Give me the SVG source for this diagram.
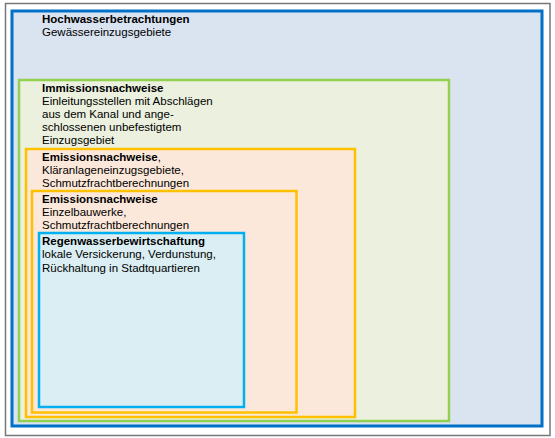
<svg xmlns="http://www.w3.org/2000/svg" width="555" height="438" viewBox="0 0 555 438">
<style>
text{font-family:"Liberation Sans",Arial,sans-serif;font-size:11.5px;fill:#000}
.b{font-weight:bold}
</style>
<rect width="555" height="438" fill="#fff"/>
<rect x="5.5" y="3.5" width="544.5" height="432" fill="#fff" stroke="#777" stroke-width="1.5"/>
<g id="hochwasser">
<rect x="12" y="11" width="530" height="415" fill="#DAE3F0" stroke="#0070C8" stroke-width="3"/>
<text x="42" y="23" class="b">Hochwasserbetrachtungen</text>
<text x="42" y="36">Gewässereinzugsgebiete</text>
</g>
<g id="immission">
<rect x="19" y="80" width="430" height="341" fill="#EBF1DE" stroke="#92D050" stroke-width="2.5"/>
<text x="42" y="91.5" class="b">Immissionsnachweise</text>
<text x="42" y="104.5">Einleitungsstellen mit Abschlägen</text>
<text x="42" y="117.5">aus dem Kanal und ange-</text>
<text x="42" y="130.5">schlossenen unbefestigtem</text>
<text x="42" y="143.5">Einzugsgebiet</text>
</g>
<g id="emission1">
<rect x="26" y="149" width="329" height="268" fill="#FCE8DA" stroke="#FFC000" stroke-width="2.5"/>
<text x="42" y="160.5"><tspan class="b">Emissionsnachweise</tspan>,</text>
<text x="42" y="173.5">Kläranlageneinzugsgebiete,</text>
<text x="42" y="186.5">Schmutzfrachtberechnungen</text>
</g>
<g id="emission2">
<rect x="32" y="191" width="264.5" height="221.5" fill="#FCE8DA" stroke="#FFC000" stroke-width="2.5"/>
<text x="42" y="202.5" class="b">Emissionsnachweise</text>
<text x="42" y="215.5">Einzelbauwerke,</text>
<text x="42" y="228.5">Schmutzfrachtberechnungen</text>
</g>
<g id="regenwasser">
<rect x="39" y="233" width="205" height="174" fill="#DAEEF3" stroke="#00B0F0" stroke-width="2.5"/>
<text x="42" y="244.5" class="b">Regenwasserbewirtschaftung</text>
<text x="42" y="258">lokale Versickerung, Verdunstung,</text>
<text x="42" y="271.5">Rückhaltung in Stadtquartieren</text>
</g>
<g id="connectors"/>
</svg>
